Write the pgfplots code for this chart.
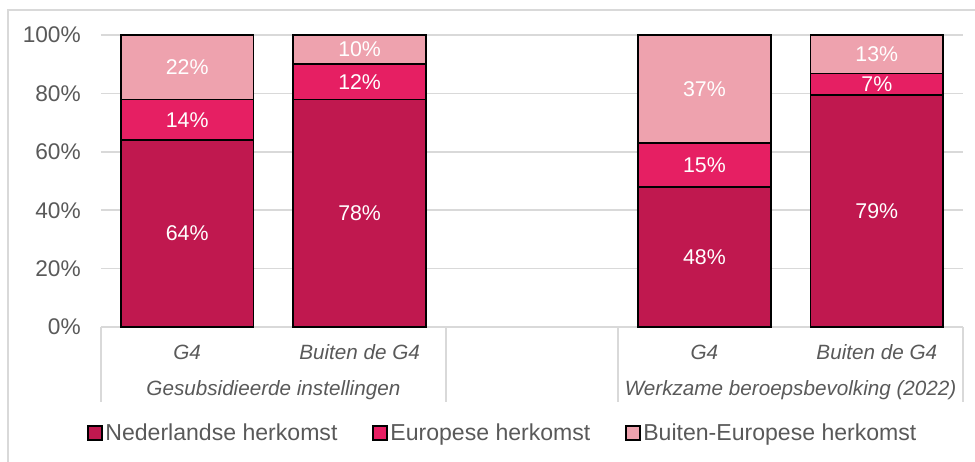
\documentclass[border=0pt]{standalone}
\usepackage{pgfplots}
\pgfplotsset{compat=1.18}
\usepackage{fontspec}
\setmainfont{Liberation Sans}
\definecolor{cdark}{HTML}{C0184F}
\definecolor{cmid}{HTML}{E61F63}
\definecolor{clight}{HTML}{EEA2AE}
\definecolor{gridgray}{HTML}{D9D9D9}
\definecolor{tickgray}{HTML}{595959}
\begin{document}
\begin{tikzpicture}
\useasboundingbox (-75.75pt,-100.5pt) rectangle (655.5pt,245.25pt);
\draw[gridgray, line width=1.2pt] (-69.75pt,-120pt) -- (-69.75pt,237.75pt) -- (680pt,237.75pt);
\begin{axis}[
  at={(0pt,0pt)}, anchor=south west,
  scale only axis, width=646.5pt, height=219pt,
  ybar stacked, bar width=0.77,
  xmin=-0.5, xmax=4.5, ymin=0, ymax=100,
  clip=false,
  xtick={0,1,3,4},
  xticklabels={G4,Buiten de G4,G4,Buiten de G4},
  ytick={0,20,40,60,80,100},
  yticklabels={0\%,20\%,40\%,60\%,80\%,100\%},
  /pgf/number format/assume math mode=true,
  ymajorgrids, grid style={draw=gridgray, line width=1.1pt},
  axis line style={draw=none},
  major tick length=0pt,
  yticklabel style={font=\fontsize{17}{20}\selectfont, text=tickgray, inner sep=0pt, anchor=east, xshift=-15pt},
  xticklabel style={font=\fontsize{15.5}{18}\selectfont\itshape, text=tickgray, inner sep=0pt, anchor=center, yshift=-18.75pt},
  legend columns=3,
  legend style={at={(0.4665,-0.363)}, anchor=center, draw=none, fill=none,
    font=\fontsize{17.3}{20}\selectfont, text=tickgray,
    /tikz/every even column/.append style={column sep=24pt},
    nodes={inner sep=2pt}},
  legend image code/.code={\draw[#1, draw=black, line width=1.3pt] (0pt,-5.2pt) rectangle (10.4pt,5.2pt);},
]
\addplot[fill=cdark, draw=black, line width=1.1pt] coordinates {(0,64) (1,78) (3,48) (4,79.4)};
\addlegendentry{Nederlandse herkomst}
\addplot[fill=cmid, draw=black, line width=1.1pt] coordinates {(0,14) (1,12) (3,15) (4,7.4)};
\addlegendentry{Europese herkomst}
\addplot[fill=clight, draw=black, line width=1.1pt] coordinates {(0,22) (1,10) (3,37) (4,13.2)};
\addlegendentry{Buiten-Europese herkomst}
\draw[gridgray, line width=1.1pt] (axis cs:-0.5,0) -- ++(0pt,-56.25pt);
\draw[gridgray, line width=1.1pt] (axis cs:1.5,0) -- ++(0pt,-56.25pt);
\draw[gridgray, line width=1.1pt] (axis cs:2.5,0) -- ++(0pt,-56.25pt);
\draw[gridgray, line width=1.1pt] (axis cs:4.5,0) -- ++(0pt,-56.25pt);
\node[yshift=-47.25pt, font=\fontsize{15.5}{18}\selectfont\itshape, text=tickgray, inner sep=0pt] at (axis cs:0.5,0) {Gesubsidieerde instellingen};
\node[yshift=-47.25pt, font=\fontsize{15.5}{18}\selectfont\itshape, text=tickgray, inner sep=0pt] at (axis cs:3.5,0) {Werkzame beroepsbevolking (2022)};
\end{axis}
\begin{axis}[
  at={(0pt,0pt)}, anchor=south west,
  scale only axis, width=646.5pt, height=219pt,
  xmin=-0.5, xmax=4.5, ymin=0, ymax=100,
  hide axis, clip=false,
]
\addplot[draw=none, mark=none, nodes near coords={\pgfplotspointmeta\%}, point meta=explicit symbolic,
  nodes near coords align=center,
  every node near coord/.append style={anchor=center, text=white, font=\fontsize{16}{19}\selectfont, inner sep=0pt}]
  table[meta=lab] {
x y lab
0 32 64
0 71 14
0 89 22
1 39 78
1 84 12
1 95 10
3 24 48
3 55.5 15
3 81.5 37
4 39.7 79
4 83.1 7
4 93.4 13
};
\end{axis}
\end{tikzpicture}
\end{document}
